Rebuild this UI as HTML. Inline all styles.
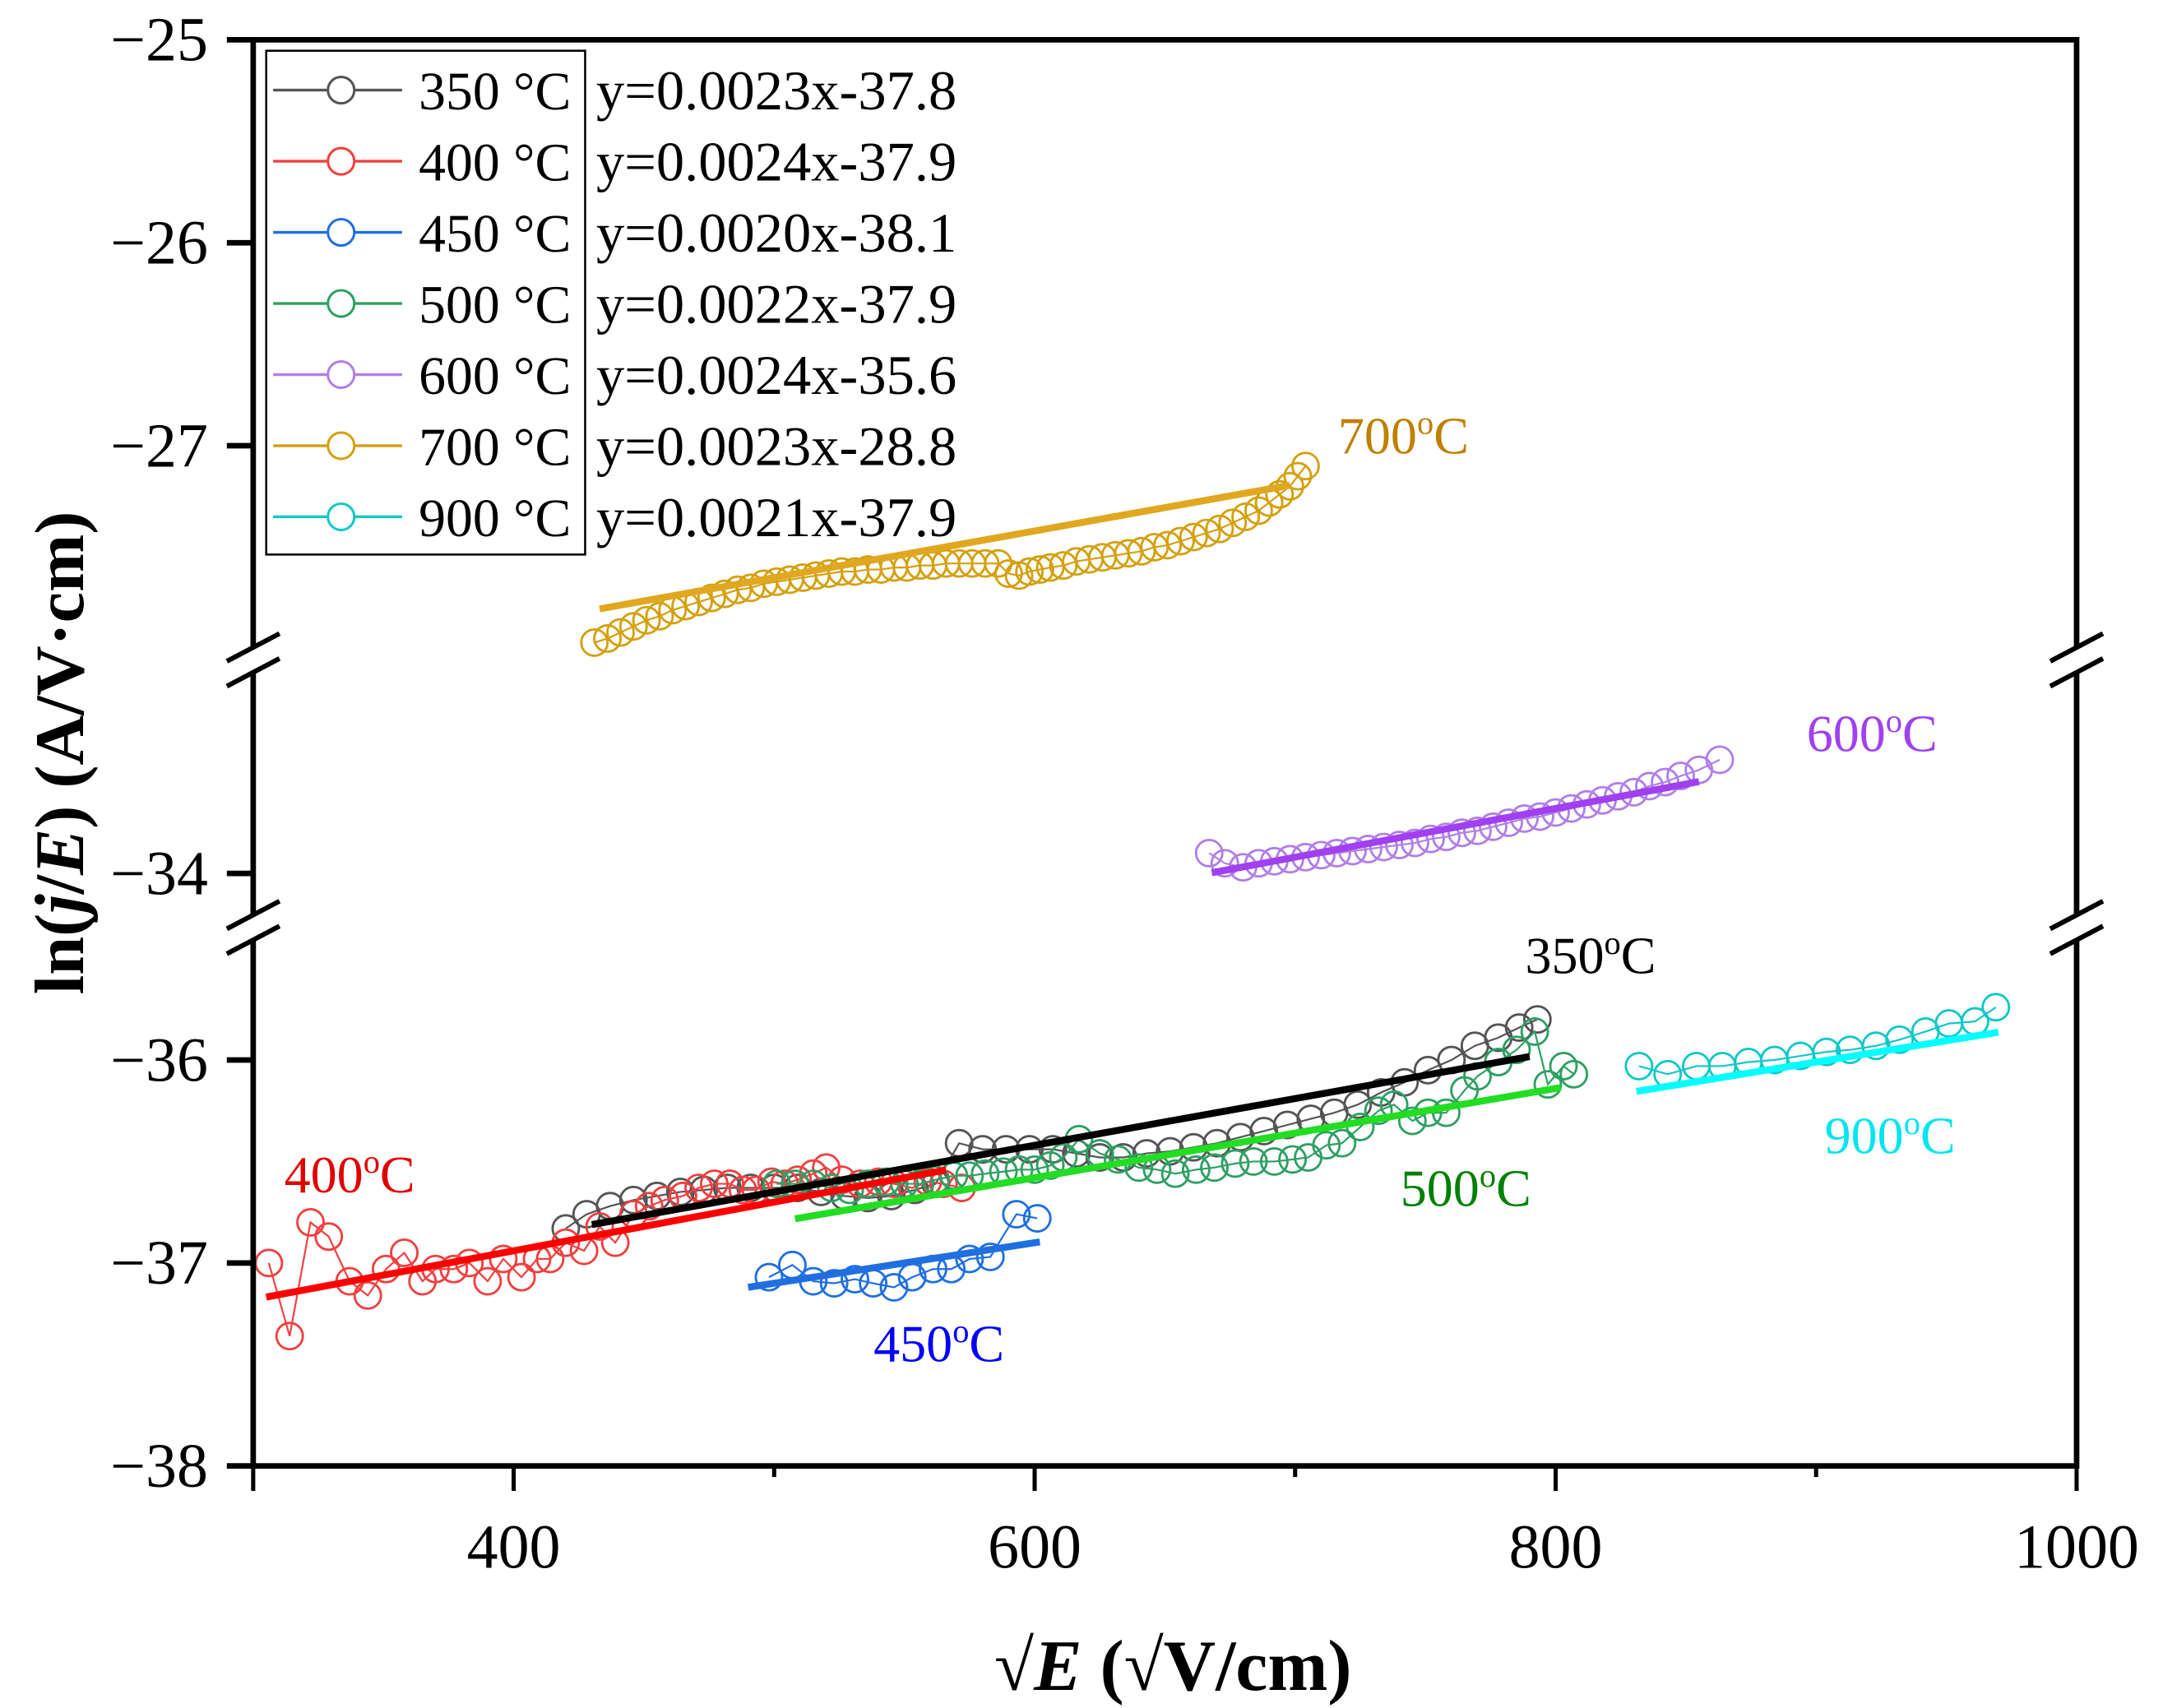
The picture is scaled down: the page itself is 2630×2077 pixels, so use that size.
<!DOCTYPE html>
<html><head><meta charset="utf-8">
<style>
html,body{margin:0;padding:0;background:#fff;}
svg{display:block;}
text{font-family:"Liberation Serif",serif;}
</style></head>
<body>
<svg id="chart" width="2630" height="2077" viewBox="0 0 1560 1232" xmlns="http://www.w3.org/2000/svg">
<g id="marks"></g>
<g id="axes"></g>
<g id="legend"></g>
</svg>
<script>
// ---------- data ----------
const xTicks = [300,400,500,600,700,800,900,1000];
const xTickLabels = ['', '400', '', '600', '', '800', '', '1000'];
const yTicks = [-25,-26,-27,-34,-36,-37,-38];
const yTickLabels = ['\u221225','\u221226','\u221227','\u221234','\u221236','\u221237','\u221238'];

const seriesNames = ['350 °C','400 °C','450 °C','500 °C','600 °C','700 °C','900 °C'];
const fitSlopes = [0.0023,0.0024,0.0020,0.0022,0.0024,0.0023,0.0021];
const fitIntercepts = [-37.8,-37.9,-38.1,-37.9,-35.6,-28.8,-37.9];
const fitXStart = [430,305,490,508,668,433,831];
const fitXEnd = [790,566,602,802,855,698,970];
const equations = ['y=0.0023x-37.8','y=0.0024x-37.9','y=0.0020x-38.1','y=0.0022x-37.9','y=0.0024x-35.6','y=0.0023x-28.8','y=0.0021x-37.9'];

const x350 = [420,428,437,446,455,464,473,482,491,500,509,518,527,536,545,554,562,571,580,589,598,607,616,625,634,643,652,661,670,679,688,697,706,715,724,733,742,751,760,769,778,786,793];
const y350 = [-36.83,-36.76,-36.72,-36.69,-36.67,-36.65,-36.64,-36.63,-36.63,-36.63,-36.63,-36.65,-36.67,-36.68,-36.67,-36.64,-36.61,-36.41,-36.44,-36.44,-36.44,-36.44,-36.46,-36.48,-36.48,-36.46,-36.45,-36.43,-36.41,-36.38,-36.35,-36.32,-36.29,-36.26,-36.22,-36.16,-36.11,-36.05,-36.00,-35.93,-35.89,-35.84,-35.80];
const x400 = [306,314,322,329,337,344,351,358,365,370,377,383,390,396,403,409,414,420,427,433,439,446,452,458,465,471,477,483,488,493,499,504,509,515,520,526,533,540,546,553,559,565,572];
const y400 = [-37.0,-37.36,-36.80,-36.87,-37.09,-37.16,-37.03,-36.95,-37.09,-37.03,-37.03,-37.0,-37.09,-36.98,-37.07,-36.98,-36.98,-36.90,-36.94,-36.82,-36.90,-36.76,-36.72,-36.69,-36.67,-36.63,-36.61,-36.61,-36.64,-36.64,-36.60,-36.61,-36.59,-36.56,-36.53,-36.59,-36.61,-36.60,-36.61,-36.63,-36.60,-36.61,-36.63];
const x450 = [498,507,515,523,531,538,546,553,561,568,575,583,593,601];
const y450 = [-37.07,-37.01,-37.09,-37.10,-37.08,-37.10,-37.12,-37.07,-37.03,-37.03,-36.98,-36.97,-36.76,-36.78];
const x500 = [501,508,515,522,529,536,543,550,556,562,569,575,581,588,594,600,606,611,617,625,632,640,647,654,662,669,677,684,692,699,705,712,718,725,732,738,745,751,758,765,770,778,785,792,797,803,807];
const y500 = [-36.61,-36.61,-36.61,-36.63,-36.64,-36.61,-36.60,-36.61,-36.61,-36.59,-36.57,-36.57,-36.56,-36.55,-36.54,-36.54,-36.52,-36.48,-36.39,-36.46,-36.49,-36.53,-36.54,-36.56,-36.54,-36.53,-36.51,-36.50,-36.50,-36.49,-36.48,-36.42,-36.41,-36.33,-36.25,-36.22,-36.30,-36.26,-36.26,-36.15,-36.08,-36.01,-35.95,-35.86,-36.12,-36.03,-36.07];
const x600 = [667,673,680,686,692,698,704,710,716,722,728,734,740,746,752,758,764,770,776,782,788,794,800,806,812,818,824,830,836,842,848,855,863];
const y600 = [-33.90,-33.95,-33.97,-33.95,-33.94,-33.93,-33.92,-33.91,-33.90,-33.89,-33.88,-33.87,-33.86,-33.85,-33.83,-33.82,-33.80,-33.79,-33.77,-33.75,-33.73,-33.72,-33.70,-33.68,-33.66,-33.64,-33.62,-33.60,-33.57,-33.55,-33.52,-33.49,-33.44];
const x700 = [431,436,441,446,451,456,461,466,471,476,481,486,491,496,501,506,511,516,521,526,531,536,541,546,551,556,561,566,571,576,581,586,590,594,598,602,606,611,616,621,626,631,636,641,646,651,656,661,666,671,676,681,686,690,694,698,701,704];
const y700 = [-27.97,-27.95,-27.92,-27.89,-27.86,-27.84,-27.81,-27.79,-27.77,-27.75,-27.73,-27.71,-27.70,-27.68,-27.67,-27.66,-27.65,-27.64,-27.63,-27.62,-27.62,-27.61,-27.61,-27.60,-27.60,-27.59,-27.59,-27.58,-27.58,-27.58,-27.58,-27.58,-27.63,-27.64,-27.62,-27.61,-27.60,-27.59,-27.57,-27.56,-27.55,-27.54,-27.53,-27.52,-27.50,-27.49,-27.47,-27.45,-27.43,-27.41,-27.38,-27.35,-27.32,-27.28,-27.24,-27.20,-27.15,-27.10];
const x900 = [832,843,854,864,874,884,894,904,913,923,932,942,951,961,969];
const y900 = [-36.03,-36.07,-36.03,-36.03,-36.01,-36.00,-35.98,-35.96,-35.95,-35.93,-35.90,-35.86,-35.82,-35.81,-35.74];

const seriesX = [x350,x400,x450,x500,x600,x700,x900];
const seriesY = [y350,y400,y450,y500,y600,y700,y900];
const markerColors = ['#555555','#f04040','#1f6fe0','#2ea062','#b07fe6','#d4a010','#10c8c8'];
const fitColors = ['#000000','#ff0000','#1f6fe0','#22dd22','#a040f0','#e0a820','#00ffff'];
const labelText = ['350','400','450','500','600','700','900'];
const labelColors = ['#000000','#e00000','#0000ff','#008000','#a040f0','#c08000','#00e5ee'];
const labelPos = [[1100,702],[205,860],[630,982],[1010,870],[1303,542],[965,327],[1316,832]];

// ---------- scales ----------
const L=182.6,R=1497.7,T=28.7,B=1057.4;
function xs(v){return L+(v-300)*(R-L)/700;}
function ys(v){
  if(v>=-28.0) return 28.7+(-25-v)*146.4;
  if(v>=-34.6) return 630+(-34-v)*146.4;
  return 764.6+(-36-v)*146.4;
}
const NS='http://www.w3.org/2000/svg';
function mk(tag,attrs,parent){const e=document.createElementNS(NS,tag);for(const k in attrs)e.setAttribute(k,attrs[k]);parent.appendChild(e);return e;}
const marks=document.getElementById('marks'), axes=document.getElementById('axes'), legend=document.getElementById('legend');

// series
seriesX.forEach((xa,i)=>{
  const g=mk('g',{},marks);
  
  
  const pts=xa.map((x,j)=>xs(x)+','+ys(seriesY[i][j])).join(' ');
  const pl=mk('polyline',{points:pts,fill:'none',stroke:markerColors[i],'stroke-width':1.3},g);
  
  
  xa.forEach((x,j)=>{
    const c=mk('circle',{cx:xs(x),cy:ys(seriesY[i][j]),r:9.5,fill:'none',stroke:markerColors[i],'stroke-width':1.7},g);
    
    
  });
});
seriesX.forEach((xa,i)=>{
  const x1=fitXStart[i],x2=fitXEnd[i];
  const ln=mk('line',{x1:xs(x1),y1:ys(fitSlopes[i]*x1+fitIntercepts[i]),x2:xs(x2),y2:ys(fitSlopes[i]*x2+fitIntercepts[i]),stroke:fitColors[i],'stroke-width':5},marks);
  
  
  const t=mk('text',{x:labelPos[i][0],y:labelPos[i][1],fill:labelColors[i],'font-size':38},marks);
  
  
  t.innerHTML=labelText[i]+'<tspan dy="-14" font-size="24">o</tspan><tspan dy="14">C</tspan>';
});

// axes frame
const fr=mk('rect',{x:L,y:T,width:R-L,height:B-T,fill:'none',stroke:'#000','stroke-width':4},axes);


// breaks
[[467,485],[660,678]].forEach(([a,b])=>{
  [L,R].forEach(ax=>{
    const gap=mk('rect',{x:ax-4,y:a,width:8,height:b-a,fill:'#fff'},axes);
    
    
    [a,b].forEach(yy=>{
      const s=mk('line',{x1:ax-19,y1:yy+10,x2:ax+19,y2:yy-10,stroke:'#000','stroke-width':3.5},axes);
      
      
    });
  });
});
xTicks.forEach((v,i)=>{
  const major = xTickLabels[i] !== '' || v===300;
  const t=mk('line',{x1:xs(v),y1:B,x2:xs(v),y2:B+(major?18:8),stroke:'#000','stroke-width':3},axes);
  
  
  if(xTickLabels[i]){
    const l=mk('text',{x:xs(v),y:1131,'text-anchor':'middle','font-size':45},axes);
    
    
    l.textContent=xTickLabels[i];
  }
});
yTicks.forEach((v,i)=>{
  const t=mk('line',{x1:L-19,y1:ys(v),x2:L,y2:ys(v),stroke:'#000','stroke-width':4},axes);
  
  
  const l=mk('text',{x:150,y:ys(v)+15,'text-anchor':'end','font-size':45},axes);
  
  
  l.textContent=yTickLabels[i];
});
const xt=mk('text',{x:846,y:1219,'text-anchor':'middle','font-size':52,'font-weight':'bold'},axes);


xt.innerHTML='\u221A<tspan font-style="italic">E</tspan> (\u221AV/cm)';
const yt=mk('text',{x:0,y:0,'text-anchor':'middle','font-size':50,'font-weight':'bold',transform:'translate(60,543) rotate(-90)'},axes);


yt.innerHTML='ln(<tspan font-style="italic">j</tspan>/<tspan font-style="italic">E</tspan>) (A/V\u00B7cm)';

// legend
const lb=mk('rect',{x:192,y:36.6,width:230,height:363.4,fill:'#fff',stroke:'#000','stroke-width':1.5},legend);


seriesNames.forEach((n,i)=>{
  const yy=65+i*51.3;
  const g=mk('g',{},legend);
  
  
  mk('line',{x1:197,y1:yy,x2:290,y2:yy,stroke:markerColors[i],'stroke-width':2},g);
  mk('circle',{cx:246,cy:yy,r:9.5,fill:'#fff',stroke:markerColors[i],'stroke-width':1.8},g);
  const t=mk('text',{x:302,y:yy+14,'font-size':39},g);
  t.textContent=n;
  const e=mk('text',{x:430,y:yy+14,'font-size':40,textLength:260,lengthAdjust:'spacingAndGlyphs'},g);
  e.textContent=equations[i];
});
</script>
</body></html>
